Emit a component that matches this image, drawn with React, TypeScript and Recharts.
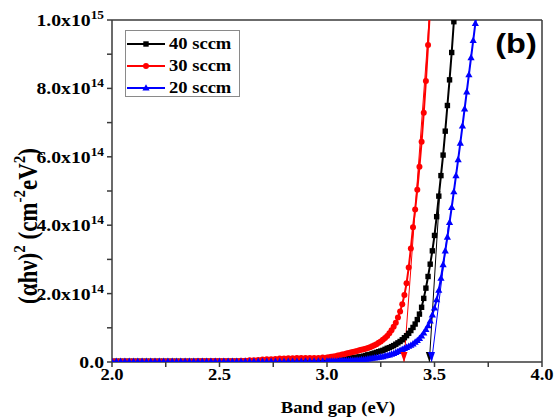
import React from "react"
import { LineChart, Line, XAxis, YAxis, ReferenceLine } from "recharts"

// photon energy grid (eV): coarse over the flat tail, fine across the absorption edge
const bandGap = [
  2.0, 2.02, 2.04, 2.06, 2.08, 2.1, 2.12, 2.14, 2.16, 2.18,
  2.2, 2.22, 2.24, 2.26, 2.28, 2.3, 2.32, 2.34, 2.36, 2.38,
  2.4, 2.42, 2.44, 2.46, 2.48, 2.5, 2.52, 2.54, 2.56, 2.58,
  2.6, 2.62, 2.64, 2.66, 2.68, 2.7, 2.72, 2.74, 2.76, 2.78,
  2.8, 2.82, 2.84, 2.86, 2.88, 2.9, 2.92, 2.94, 2.96, 2.98,
  3.0, 3.01, 3.02, 3.03, 3.04, 3.05, 3.06, 3.07, 3.08, 3.09,
  3.1, 3.11, 3.12, 3.13, 3.14, 3.15, 3.16, 3.17, 3.18, 3.19,
  3.2, 3.21, 3.22, 3.23, 3.24, 3.25, 3.26, 3.27, 3.28, 3.29,
  3.3, 3.31, 3.32, 3.33, 3.34, 3.35, 3.36, 3.37, 3.38, 3.39,
  3.4, 3.41, 3.42, 3.43, 3.44, 3.45, 3.46, 3.47, 3.48, 3.49,
  3.5, 3.51, 3.52, 3.53, 3.54, 3.55, 3.56, 3.57, 3.58, 3.59,
  3.6, 3.61, 3.62, 3.63, 3.64, 3.65, 3.66, 3.67, 3.68, 3.69,
  3.7,
]

// (αhν)² in units of 1e14 cm^-2 eV^2
const sccm40 = [
  0.02, 0.02, 0.02, 0.02, 0.02, 0.02, 0.02, 0.02, 0.02, 0.02,
  0.02, 0.02, 0.02, 0.02, 0.02, 0.02, 0.02, 0.02, 0.02, 0.02,
  0.02, 0.02, 0.02, 0.02, 0.02, 0.02, 0.02, 0.02, 0.02, 0.02,
  0.02, 0.02, 0.02, 0.02, 0.02, 0.03, 0.03, 0.03, 0.03, 0.03,
  0.03, 0.03, 0.03, 0.03, 0.03, 0.04, 0.04, 0.04, 0.04, 0.04,
  0.05, 0.05, 0.05, 0.06, 0.06, 0.07, 0.07, 0.08, 0.08, 0.09,
  0.1, 0.11, 0.12, 0.13, 0.14, 0.15, 0.16, 0.17, 0.19, 0.21,
  0.22, 0.24, 0.26, 0.28, 0.3, 0.32, 0.34, 0.37, 0.4, 0.42,
  0.45, 0.48, 0.52, 0.56, 0.6, 0.65, 0.71, 0.77, 0.84, 0.92,
  1.01, 1.11, 1.24, 1.4, 1.6, 1.86, 2.16, 2.5, 2.86, 3.25,
  3.7, 4.25, 4.85, 5.45, 6.05, 6.75, 7.5, 8.25, 9.05, 9.95,
  10.9, null, null, null, null, null, null, null, null, null,
  null,
]

const sccm30 = [
  0.02, 0.02, 0.02, 0.02, 0.02, 0.02, 0.02, 0.02, 0.02, 0.02,
  0.02, 0.02, 0.02, 0.02, 0.02, 0.02, 0.02, 0.02, 0.02, 0.02,
  0.03, 0.03, 0.03, 0.03, 0.03, 0.03, 0.03, 0.03, 0.03, 0.03,
  0.04, 0.04, 0.05, 0.05, 0.06, 0.07, 0.08, 0.08, 0.09, 0.1,
  0.1, 0.11, 0.11, 0.12, 0.12, 0.12, 0.12, 0.12, 0.12, 0.13,
  0.13, 0.14, 0.15, 0.16, 0.17, 0.19, 0.2, 0.22, 0.23, 0.25,
  0.26, 0.28, 0.29, 0.31, 0.32, 0.34, 0.36, 0.37, 0.39, 0.41,
  0.43, 0.46, 0.49, 0.52, 0.56, 0.6, 0.65, 0.7, 0.76, 0.84,
  0.93, 1.03, 1.15, 1.3, 1.48, 1.69, 1.96, 2.3, 2.76, 3.32,
  3.94, 4.46, 5.04, 5.71, 6.44, 7.29, 8.22, 9.27, 10.45, null,
  null, null, null, null, null, null, null, null, null, null,
  null, null, null, null, null, null, null, null, null, null,
  null,
]

const sccm20 = [
  0.02, 0.02, 0.02, 0.02, 0.02, 0.02, 0.02, 0.02, 0.02, 0.02,
  0.02, 0.02, 0.02, 0.02, 0.02, 0.02, 0.02, 0.02, 0.02, 0.02,
  0.02, 0.02, 0.02, 0.02, 0.02, 0.02, 0.02, 0.02, 0.02, 0.02,
  0.02, 0.02, 0.02, 0.02, 0.02, 0.02, 0.02, 0.02, 0.02, 0.02,
  0.02, 0.02, 0.02, 0.02, 0.02, 0.03, 0.03, 0.03, 0.03, 0.03,
  0.03, 0.03, 0.03, 0.03, 0.03, 0.03, 0.04, 0.04, 0.04, 0.04,
  0.04, 0.05, 0.05, 0.05, 0.06, 0.06, 0.07, 0.07, 0.08, 0.09,
  0.1, 0.11, 0.12, 0.13, 0.14, 0.15, 0.16, 0.18, 0.19, 0.21,
  0.23, 0.25, 0.28, 0.31, 0.34, 0.37, 0.4, 0.43, 0.46, 0.49,
  0.53, 0.58, 0.63, 0.69, 0.76, 0.85, 0.95, 1.06, 1.2, 1.38,
  1.58, 1.82, 2.1, 2.45, 2.85, 3.25, 3.65, 4.08, 4.52, 4.98,
  5.45, 5.92, 6.4, 6.9, 7.4, 7.9, 8.4, 8.9, 9.4, 9.9,
  10.4,
]

// linear extrapolations of the edge down to the energy axis
const fit40Energy = [3.476, 3.525]
const fit40Value = [0, 5.0]
const fit30Energy = [3.358, 3.475]
const fit30Value = [0, 10]
const fit20Energy = [3.486, 3.565]
const fit20Value = [0, 4.0]

const seriesNames = ["40 sccm", "30 sccm", "20 sccm"]
const seriesColors = ["#000000", "#ff0000", "#0000ff"]

const xTicks = [2, 2.25, 2.5, 2.75, 3, 3.25, 3.5, 3.75, 4]
const yTicks = [0, 1, 2, 3, 4, 5, 6, 7, 8, 9, 10]

const data = bandGap.map((e, i) => ({
  e,
  s40: sccm40[i],
  s30: sccm30[i],
  s20: sccm20[i],
}))

const toFit = (es: number[], vs: number[]) => es.map((e, i) => ({ e, v: vs[i] }))
const fit40 = toFit(fit40Energy, fit40Value)
const fit30 = toFit(fit30Energy, fit30Value)
const fit20 = toFit(fit20Energy, fit20Value)

const SERIF = "Liberation Serif"
const SANS = "Liberation Sans"
const SX = 1.16 // labels are set slightly wide
const AXIS = "#3a3a3a"

function marker(kind: string, cx: number, cy: number, color: string, key?: any) {
  if (kind === "square")
    return <rect key={key} x={cx - 2.7} y={cy - 2.7} width={5.4} height={5.4} fill={color} />
  if (kind === "circle") return <circle key={key} cx={cx} cy={cy} r={3} fill={color} />
  return (
    <path
      key={key}
      d={`M${cx},${cy - 3.8}L${cx + 3.6},${cy + 2.6}L${cx - 3.6},${cy + 2.6}Z`}
      fill={color}
    />
  )
}

const dotFor = (kind: string, color: string) => (p: any) => {
  if (p.cx == null || p.cy == null || p.value == null) return <g key={p.index} />
  return marker(kind, p.cx, p.cy, color, p.index)
}

// downward arrowhead where the fit meets the axis
const arrowFor = (color: string) => (p: any) => {
  if (p.payload?.v !== 0) return <g key={p.index} />
  const { cx, cy } = p
  return (
    <path
      key={p.index}
      d={`M${cx},${cy}L${cx + 3.5},${cy - 10}L${cx - 3.5},${cy - 10}Z`}
      fill={color}
    />
  )
}

function YTick({ x, y, payload }: any) {
  const v = payload.value
  if (v % 2 !== 0) return <g />
  const mant = v === 0 ? "0.0" : v === 10 ? "1.0x10" : `${v}.0x10`
  const exp = v === 0 ? null : v === 10 ? "15" : "14"
  return (
    <g transform={`translate(${x},${y}) scale(${SX},1)`}>
      <text textAnchor="end" dy="0.35em" fontSize={17} fontFamily={SERIF} fontWeight="bold" fill="#000">
        {mant}
        {exp && (
          <tspan fontSize={11.5} dy={-7}>
            {exp}
          </tspan>
        )}
      </text>
    </g>
  )
}

function XTick({ x, y, payload }: any) {
  const v = payload.value
  if (Math.round(v * 2) !== v * 2) return <g />
  return (
    <g transform={`translate(${x},${y}) scale(${SX},1)`}>
      <text textAnchor="middle" dy="0.71em" fontSize={16} fontFamily={SERIF} fontWeight="bold" fill="#000">
        {v.toFixed(1)}
      </text>
    </g>
  )
}

function LegendBox() {
  const kinds = ["square", "circle", "triangle"]
  return (
    <svg width={116} height={68} style={{ position: "absolute", left: 125, top: 30 }}>
      <rect x={0.5} y={0.5} width={114} height={66} fill="#fff" stroke="#8a8a8a" />
      {seriesNames.map((name, i) => {
        const cy = 14 + i * 22
        return (
          <g key={name}>
            <line x1={2} x2={40} y1={cy} y2={cy} stroke={seriesColors[i]} strokeWidth={2} />
            {marker(kinds[i], 21, cy, seriesColors[i])}
            <g transform={`translate(44,${cy + 5}) scale(${SX},1)`}>
              <text fontSize={16} fontFamily={SERIF} fontWeight="bold" fill="#000">
                {name}
              </text>
            </g>
          </g>
        )
      })}
    </svg>
  )
}

function Titles() {
  return (
    <svg width={558} height={419} style={{ position: "absolute", left: 0, top: 0, pointerEvents: "none" }}>
      <g transform={`translate(338,413) scale(${SX},1)`}>
        <text textAnchor="middle" fontSize={16} fontFamily={SERIF} fontWeight="bold" fill="#000">
          Band gap (eV)
        </text>
      </g>
      <g transform={`translate(37,226) rotate(-90) scale(1,${SX})`}>
        <text textAnchor="middle" fontSize={23} fontFamily={SERIF} fontWeight="bold" fill="#000">
          <tspan>(αhν)</tspan>
          <tspan fontSize={15} dy={-10}>2</tspan>
          <tspan dy={10}> (cm</tspan>
          <tspan fontSize={15} dy={-10}>-2</tspan>
          <tspan dy={10}>eV</tspan>
          <tspan fontSize={15} dy={-10}>2</tspan>
          <tspan dy={10}>)</tspan>
        </text>
      </g>
      <g transform={`translate(516,53) scale(${SX},1)`}>
        <text textAnchor="middle" fontSize={28} fontFamily={SANS} fontWeight="bold" fill="#000">
          (b)
        </text>
      </g>
    </svg>
  )
}

export default function App() {
  const kinds = ["square", "circle", "triangle"]
  const keys = ["s40", "s30", "s20"]
  const fits = [fit40, fit30, fit20]
  return (
    <div style={{ position: "relative", width: 558, height: 419, background: "#fff" }}>
      <style>{"body{margin:0}"}</style>
      <LineChart width={558} height={419} data={data} margin={{ top: 20, right: 16, bottom: 0, left: 0 }}>
        <XAxis
          dataKey="e"
          type="number"
          domain={[2, 4]}
          ticks={xTicks}
          interval={0}
          allowDataOverflow
          height={57}
          tickSize={5}
          tickMargin={2}
          axisLine={{ stroke: AXIS, strokeWidth: 1.5 }}
          tickLine={{ stroke: AXIS, strokeWidth: 1.5 }}
          tick={<XTick />}
        />
        <YAxis
          type="number"
          domain={[0, 10]}
          ticks={yTicks}
          interval={0}
          allowDataOverflow
          width={112}
          tickSize={5}
          tickMargin={3}
          axisLine={{ stroke: AXIS, strokeWidth: 1.5 }}
          tickLine={{ stroke: AXIS, strokeWidth: 1.5 }}
          tick={<YTick />}
        />
        <ReferenceLine y={10} stroke={AXIS} strokeWidth={1.5} />
        <ReferenceLine x={4} stroke={AXIS} strokeWidth={1.5} />
        {keys.map((k, i) => (
          <Line
            key={k}
            dataKey={k}
            name={seriesNames[i]}
            type="linear"
            stroke={seriesColors[i]}
            strokeWidth={2}
            dot={dotFor(kinds[i], seriesColors[i])}
            activeDot={false}
            isAnimationActive={false}
          />
        ))}
        {fits.map((f, i) => (
          <Line
            key={`fit${i}`}
            data={f}
            dataKey="v"
            type="linear"
            stroke={seriesColors[i]}
            strokeWidth={1}
            dot={arrowFor(seriesColors[i])}
            activeDot={false}
            legendType="none"
            isAnimationActive={false}
          />
        ))}
      </LineChart>
      <Titles />
      <LegendBox />
    </div>
  )
}
